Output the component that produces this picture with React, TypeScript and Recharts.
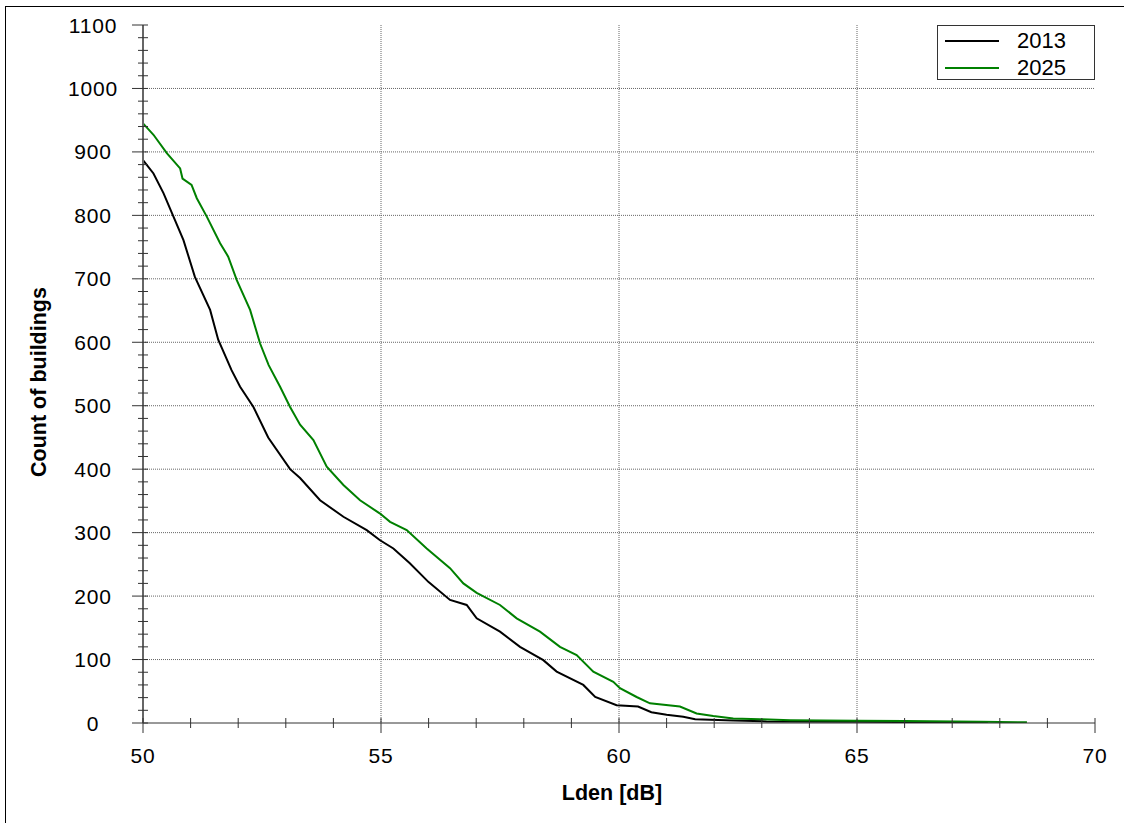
import { LineChart, Line, XAxis, YAxis, CartesianGrid, Legend, Label } from "recharts"

const font = "'Liberation Sans', Arial, sans-serif"

// Lden values (dB) and building counts
const lden2013 = [
  50.0, 50.22, 50.43, 50.64, 50.85, 51.09, 51.41, 51.58, 51.86, 52.04, 52.32, 52.63, 53.09, 53.3,
  53.72, 54.21, 54.7, 54.98, 55.26, 55.6, 56.0, 56.45, 56.8, 57.01, 57.5, 57.92, 58.41, 58.69,
  59.25, 59.5, 59.95, 60.4, 60.68, 61.0, 61.35, 61.6, 62.4, 63.1, 65.0, 66.0, 67.75,
]
const count2013 = [
  887, 866, 835, 798, 761, 703, 651, 604, 556, 530, 498, 450, 400, 386,
  351, 325, 304, 288, 275, 252, 222, 194, 186, 165, 144, 120, 99, 81,
  60, 41, 28, 26, 17, 13, 10, 6, 4, 2.5, 2, 1.5, 1,
]

const lden2025 = [
  50.0, 50.22, 50.5, 50.78, 50.83, 51.02, 51.13, 51.34, 51.62, 51.79, 51.97, 52.25, 52.46, 52.64,
  52.88, 53.09, 53.3, 53.58, 53.86, 54.21, 54.56, 54.98, 55.19, 55.54, 55.96, 56.45, 56.73, 57.01,
  57.5, 57.85, 58.34, 58.76, 59.11, 59.46, 59.88, 60.02, 60.37, 60.65, 61.28, 61.63, 61.98, 62.4,
  62.96, 63.6, 65.0, 66.0, 67.6, 68.57,
]
const count2025 = [
  945, 927, 898, 874, 858, 848, 827, 798, 756, 735, 698, 651, 598, 564,
  530, 498, 470, 446, 404, 375, 351, 330, 317, 304, 275, 244, 220, 205,
  186, 165, 144, 120, 107, 81, 65, 55, 41, 31, 26, 15, 11, 7,
  6, 4.5, 3.5, 3, 2, 1,
]

const xTicks = [
  50, 51, 52, 53, 54, 55, 56, 57, 58, 59, 60, 61, 62, 63, 64, 65, 66, 67, 68, 69, 70,
]
const xGrid = [55, 60, 65]
const yTicks = Array.from({ length: 56 }, (_, i) => i * 20)
const yGrid = [100, 200, 300, 400, 500, 600, 700, 800, 900, 1000]

const data2013 = lden2013.map((x, i) => ({ x, y: count2013[i] }))
const data2025 = lden2025.map((x, i) => ({ x, y: count2025[i] }))

const tickText = { fontFamily: font, fontSize: 21, fill: "#000", letterSpacing: 0.8 }
const titleText = { fontFamily: font, fontSize: 21.5, fontWeight: 700, fill: "#000" }

const BottomTick = ({ x, y, payload }: any) => {
  const major = payload.value % 5 === 0
  return (
    <g>
      <line x1={x} x2={x} y1={y - 5} y2={y + (major ? 10 : 5)} stroke="#333" />
      {major && (
        <text x={x} y={y + 32} textAnchor="middle" dominantBaseline="central" style={tickText}>
          {payload.value}
        </text>
      )}
    </g>
  )
}

const TopTick = ({ x, y, payload }: any) => {
  const major = payload.value % 5 === 0
  return <line x1={x} x2={x} y1={y} y2={y + (major ? 9 : 6)} stroke="#333" />
}

const LeftTick = ({ x, y, payload }: any) => {
  const major = payload.value % 100 === 0
  return (
    <g>
      <line x1={x - (major ? 11 : 5)} x2={x + 5} y1={y} y2={y} stroke="#333" />
      {major && (
        <text x={x - 50} y={y} textAnchor="middle" dominantBaseline="central" style={tickText}>
          {payload.value}
        </text>
      )}
    </g>
  )
}

const RightTick = ({ x, y, payload }: any) => {
  const major = payload.value % 100 === 0
  return <line x1={x - (major ? 9 : 6)} x2={x} y1={y} y2={y} stroke="#333" />
}

const YTitle = (props: any) => {
  const { x, y, height } = props.viewBox
  const cx = x + 39
  const cy = y + height / 2 + 8
  return (
    <text
      x={cx}
      y={cy}
      transform={`rotate(-90, ${cx}, ${cy})`}
      textAnchor="middle"
      dominantBaseline="central"
      style={titleText}
    >
      Count of buildings
    </text>
  )
}

const XTitle = (props: any) => {
  const { x, y, width } = props.viewBox
  return (
    <text
      x={x + width / 2 - 7}
      y={y + 70}
      textAnchor="middle"
      dominantBaseline="central"
      style={titleText}
    >
      Lden [dB]
    </text>
  )
}

const LegendBox = ({ payload }: any) => (
  <div
    style={{
      width: 158,
      height: 55,
      boxSizing: "border-box",
      border: "1px solid #333",
      background: "#fff",
      paddingTop: 1,
      fontFamily: font,
      fontSize: 22,
    }}
  >
    {(payload || []).map((p: any) => (
      <div key={p.value} style={{ height: 27, display: "flex", alignItems: "center", lineHeight: "27px" }}>
        <div style={{ width: 54, height: 2, background: p.color, marginLeft: 7 }} />
        <span style={{ marginLeft: 18, color: "#000" }}>{p.value}</span>
      </div>
    ))}
  </div>
)

export default function App() {
  return (
    <div style={{ position: "absolute", left: 0, top: 0, width: 1124, height: 823, background: "#fff" }}>
      <div
        style={{
          position: "absolute",
          left: 5,
          top: 6,
          right: 0,
          bottom: 0,
          borderLeft: "1px solid #000",
          borderTop: "1px solid #000",
        }}
      />
      <LineChart width={1124} height={823} margin={{ top: 25, right: 29, bottom: 0, left: 0 }}>
        <CartesianGrid
          horizontalValues={yGrid}
          verticalValues={xGrid}
          stroke="#666"
          strokeDasharray="1 1"
        />
        <XAxis
          type="number"
          dataKey="x"
          domain={[50, 70]}
          ticks={xTicks}
          interval={0}
          allowDataOverflow
          height={100}
          tickLine={false}
          tickSize={0}
          tickMargin={0}
          tick={<BottomTick />}
          axisLine={{ stroke: "#333" }}
        >
          <Label content={<XTitle />} />
        </XAxis>
        <XAxis
          xAxisId="top"
          orientation="top"
          type="number"
          dataKey="x"
          domain={[50, 70]}
          ticks={xTicks}
          interval={0}
          allowDataOverflow
          height={0}
          tickLine={false}
          tickSize={0}
          tickMargin={0}
          tick={<TopTick />}
          axisLine={{ stroke: "#333" }}
        />
        <YAxis
          type="number"
          domain={[0, 1100]}
          ticks={yTicks}
          interval={0}
          allowDataOverflow
          width={143}
          tickLine={false}
          tickSize={0}
          tickMargin={0}
          tick={<LeftTick />}
          axisLine={{ stroke: "#666", strokeWidth: 2 }}
        >
          <Label content={<YTitle />} />
        </YAxis>
        <YAxis
          yAxisId="right"
          orientation="right"
          type="number"
          domain={[0, 1100]}
          ticks={yTicks}
          interval={0}
          allowDataOverflow
          width={0}
          tickLine={false}
          tickSize={0}
          tickMargin={0}
          tick={<RightTick />}
          axisLine={{ stroke: "#666", strokeWidth: 2 }}
        />
        <Legend
          layout="horizontal"
          verticalAlign="middle"
          align="center"
          wrapperStyle={{ left: 937, top: 25, width: 158, height: 55 }}
          content={<LegendBox />}
        />
        <Line
          data={data2013}
          dataKey="y"
          name="2013"
          type="linear"
          stroke="#000000"
          strokeWidth={2}
          dot={false}
          isAnimationActive={false}
        />
        <Line
          data={data2025}
          dataKey="y"
          name="2025"
          type="linear"
          stroke="#008000"
          strokeWidth={2}
          dot={false}
          isAnimationActive={false}
        />
      </LineChart>
    </div>
  )
}
